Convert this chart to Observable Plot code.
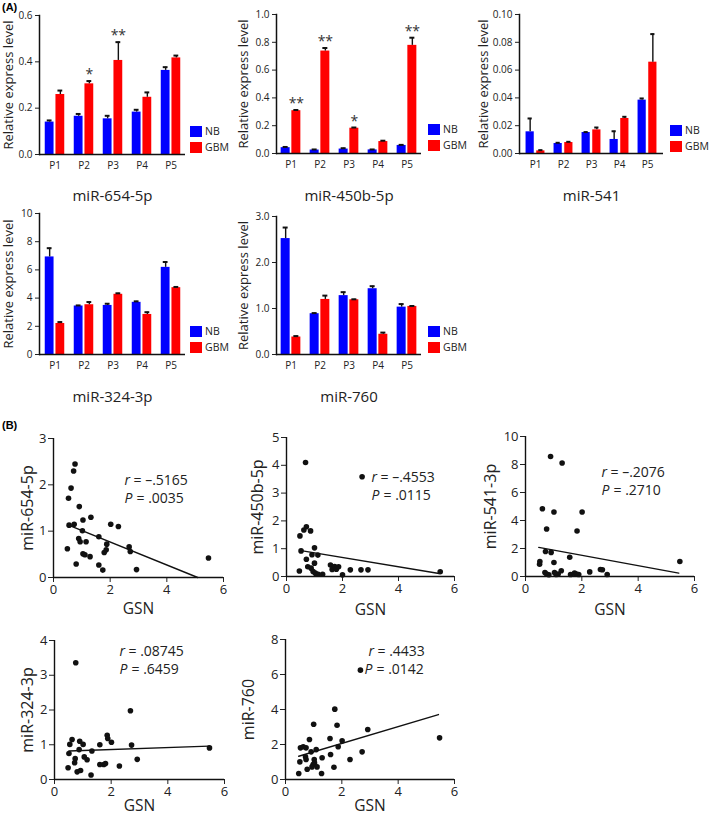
<!DOCTYPE html>
<html><head><meta charset="utf-8">
<script src="https://cdn.jsdelivr.net/npm/d3@7"></script>
<script src="https://cdn.jsdelivr.net/npm/@observablehq/plot@0.6"></script>
<style>
body{margin:0;background:#fff;}
#fig{position:relative;width:709px;height:818px;overflow:hidden;background:#fff;font-family:"Open Sans",sans-serif;}
.panel{position:absolute;}
.panel svg{overflow:visible;}
.lg{position:absolute;width:12px;height:11px;}
.lt{position:absolute;font-size:10.5px;line-height:11px;color:#222;}
.tag{position:absolute;font:bold 11px "Liberation Sans",Arial,sans-serif;color:#000;}
</style></head><body><div id="fig"></div>
<script>
// ---------- (A) bar charts ----------
const patients = ["P1","P2","P3","P4","P5"];
const groups = ["NB","GBM"];
const yLabelA = "Relative express level";

const mir654NB = [0.140,0.165,0.154,0.183,0.363];
const mir654NBErr = [0.007,0.010,0.013,0.010,0.014];
const mir654GBM = [0.259,0.305,0.406,0.247,0.417];
const mir654GBMErr = [0.017,0.012,0.079,0.021,0.010];
const mir654Stars = ["","*","**","",""];

const mir450NB = [0.042,0.025,0.032,0.026,0.058];
const mir450NBErr = [0.005,0.004,0.006,0.003,0.004];
const mir450GBM = [0.308,0.737,0.182,0.086,0.778];
const mir450GBMErr = [0.005,0.022,0.005,0.006,0.055];
const mir450Stars = ["**","**","*","","**"];

const mir541NB = [0.0156,0.0072,0.0151,0.0101,0.0384];
const mir541NBErr = [0.0096,0.0005,0.0003,0.0059,0.0012];
const mir541GBM = [0.0019,0.0079,0.0170,0.0252,0.0657];
const mir541GBMErr = [0.0005,0.0005,0.0017,0.0012,0.0202];
const mir541Stars = ["","","","",""];

const mir324NB = [6.92,3.44,3.48,3.70,6.18];
const mir324NBErr = [0.62,0.04,0.12,0.07,0.38];
const mir324GBM = [2.20,3.53,4.27,2.84,4.74];
const mir324GBMErr = [0.10,0.19,0.07,0.16,0.05];
const mir324Stars = ["","","","",""];

const mir760NB = [2.52,0.887,1.28,1.43,1.03];
const mir760NBErr = [0.24,0.013,0.075,0.055,0.066];
const mir760GBM = [0.38,1.197,1.19,0.44,1.045];
const mir760GBMErr = [0.02,0.083,0.01,0.036,0.01];
const mir760Stars = ["","","","",""];

const ticks654 = [0,0.2,0.4,0.6];
const ticks450 = [0,0.2,0.4,0.6,0.8,1.0];
const ticks541 = [0,0.02,0.04,0.06,0.08,0.10];
const ticks324 = [0,2,4,6,8,10];
const ticks760 = [0,1,2,3];

// ---------- (B) scatter plots ----------
const xLabelB = "GSN";
const gsnTicks = [0,2,4,6];

const gsn654 = [0.76,0.71,0.62,0.53,0.91,1.32,0.55,0.73,1.04,1.02,2.02,2.29,0.89,0.94,1.15,1.60,1.88,1.86,1.79,2.67,2.71,0.49,1.04,1.11,1.29,0.80,1.60,1.74,2.93,5.47];
const val654 = [2.45,2.30,1.93,1.71,1.53,1.30,1.13,1.15,1.24,1.01,1.15,1.10,0.84,0.77,0.77,0.88,0.72,0.60,0.54,0.66,0.56,0.62,0.51,0.49,0.45,0.29,0.27,0.16,0.17,0.42];
const fit654X = [0.53,5.09], fit654Y = [1.13,0];

const gsn450 = [0.68,2.70,0.71,0.62,0.86,0.48,0.52,1.00,0.91,1.12,0.71,1.00,0.76,0.88,0.95,1.03,1.13,1.29,0.46,1.57,1.63,1.72,1.78,1.86,2.00,2.28,2.66,2.91,5.49];
const val450 = [4.10,3.59,1.79,1.67,1.64,1.46,0.92,1.03,0.78,0.77,0.62,0.48,0.35,0.30,0.18,0.12,0.08,0.08,0.20,0.41,0.25,0.36,0.26,0.35,0.06,0.24,0.24,0.24,0.17];
const fit450X = [0.52,5.45], fit450Y = [0.93,0.11];

const gsn541 = [0.89,1.30,0.60,1.01,2.01,0.75,1.83,0.91,0.71,1.57,0.51,0.50,1.01,0.69,0.83,1.03,1.16,1.27,0.75,1.60,1.74,1.81,1.89,2.28,2.66,2.73,2.90,5.48,1.09];
const val541 = [8.57,8.11,4.84,4.61,4.61,3.39,3.25,1.72,1.79,1.38,1.07,0.88,1.00,0.29,0.12,0.29,0.17,0.41,0.17,0.14,0.24,0.17,0.14,0.33,0.50,0.48,0.14,1.07,0.14];
const fit541X = [0.47,5.44], fit541Y = [2.08,0.24];

const gsn324 = [0.75,2.68,0.62,0.54,0.89,1.01,0.51,0.87,0.73,0.71,1.05,1.15,1.32,0.48,0.80,0.92,1.29,1.60,1.86,1.88,2.01,1.60,1.74,1.80,2.29,2.72,2.92,5.47];
const val324 = [3.36,1.98,1.15,1.01,1.10,1.01,0.75,0.86,0.60,0.48,0.65,0.57,0.82,0.34,0.22,0.26,0.13,1.00,1.27,1.18,1.07,0.43,0.43,0.46,0.39,0.99,0.58,0.91];
const fit324X = [0.51,5.45], fit324Y = [0.82,0.96];

const gsn760 = [2.66,1.75,1.00,1.83,2.92,5.47,1.58,2.01,0.85,1.87,0.53,0.63,0.73,1.09,0.91,1.60,2.72,0.71,1.02,1.30,2.29,0.51,0.73,1.03,0.98,1.12,1.72,0.77,0.94,0.47,1.28];
const val760 = [6.25,4.02,3.16,3.10,2.86,2.38,2.34,2.21,2.29,1.87,1.81,1.87,1.81,1.71,1.58,1.43,1.58,1.30,1.14,1.24,1.14,1.01,1.14,0.95,0.86,0.72,0.70,0.59,0.72,0.34,0.34];
const fit760X = [0.47,5.43], fit760Y = [1.33,3.71];

const corrR = ["–.5165","–.4553","–.2076",".08745",".4433"];
const corrP = [".0035",".0115",".2710",".6459",".0142"];

// ---------- helpers ----------
const fig = document.getElementById("fig");
const BLUE = "#0000ff", RED = "#ff0000";

function place(el, left, top) {
  const d = document.createElement("div");
  d.className = "panel"; d.style.left = left + "px"; d.style.top = top + "px";
  d.appendChild(el); fig.appendChild(d);
}
function html(cls, left, top, text, bg) {
  const d = document.createElement("div");
  d.className = cls; d.style.left = left + "px"; d.style.top = top + "px";
  if (text) d.textContent = text;
  if (bg) d.style.background = bg;
  fig.appendChild(d);
}

function barPanel(o) {
  const nb = patients.map((p, i) => ({patient: p, group: groups[0], value: o.nb[i], top: o.nb[i] + o.nbErr[i]}));
  const gb = patients.map((p, i) => ({patient: p, group: groups[1], value: o.gbm[i], top: o.gbm[i] + o.gbmErr[i], star: o.stars[i]}));
  const step = (o.width - o.ml - o.mr) / patients.length;
  const bw = 9, gap = 1.7, cap = 5;
  const outer = (step - 2 * bw - gap) / 2;
  const off = gap / 2 + bw / 2;
  const cNB = outer + bw / 2, cGB = step - outer - bw / 2;
  return Plot.plot({
    width: o.width, height: o.height,
    marginLeft: o.ml, marginRight: o.mr, marginTop: o.mt, marginBottom: o.mb,
    style: {fontFamily: "'Open Sans', sans-serif", fontSize: "10px", color: "#222", background: "transparent"},
    x: {domain: patients, padding: 0},
    y: {domain: [0, o.ticks[o.ticks.length - 1]]},
    marks: [
      Plot.barY(nb, {x: "patient", y: "value", fill: BLUE, insetLeft: outer, insetRight: outer + bw + gap}),
      Plot.barY(gb, {x: "patient", y: "value", fill: RED, insetLeft: outer + bw + gap, insetRight: outer}),
      Plot.ruleX(nb, {x: "patient", y1: "value", y2: "top", dx: -off, stroke: "#111", strokeWidth: 1.4}),
      Plot.ruleX(gb, {x: "patient", y1: "value", y2: "top", dx: off, stroke: "#111", strokeWidth: 1.4}),
      Plot.tickY(nb, {x: "patient", y: "top", insetLeft: cNB - cap / 2, insetRight: step - cNB - cap / 2, stroke: "#111", strokeWidth: 2}),
      Plot.tickY(gb, {x: "patient", y: "top", insetLeft: cGB - cap / 2, insetRight: step - cGB - cap / 2, stroke: "#111", strokeWidth: 2}),
      Plot.text(gb.filter(d => d.star), {x: "patient", y: "top", text: "star", dx: off, dy: -2, fontSize: 14, fill: "#333", lineAnchor: "bottom", letterSpacing: "1px"}),
      Plot.axisX({tickSize: 0, tickPadding: 7, label: null}),
      Plot.axisY({ticks: o.ticks, tickFormat: o.fmt, tickSize: 4, tickPadding: 3, label: null}),
      Plot.ruleY([0], {stroke: "#111", strokeWidth: 1.5}),
      Plot.frame({anchor: "left", stroke: "#111", strokeWidth: 1.5}),
      Plot.text([yLabelA], {frameAnchor: "left", rotate: -90, dx: o.ylx, textAnchor: "middle", lineAnchor: "middle", fontSize: 13, fill: "#222"}),
      Plot.text([o.title], {frameAnchor: "bottom", dy: o.tdy, textAnchor: "middle", lineAnchor: "middle", fontSize: 15, fill: "#222"})
    ]
  });
}

function scatterPanel(o) {
  const pts = o.x.map((x, i) => ({x, y: o.y[i]}));
  const fit = o.fx.map((x, i) => ({x, y: o.fy[i]}));
  const fi = d3.format("d");
  const ann = {frameAnchor: "top-left", fontSize: 14, textAnchor: "start", lineAnchor: "middle", fill: "#222"};
  return Plot.plot({
    width: o.width, height: o.height,
    marginLeft: o.ml, marginRight: o.mr, marginTop: o.mt, marginBottom: o.mb,
    style: {fontFamily: "'Open Sans', sans-serif", fontSize: "13px", color: "#222", background: "transparent"},
    x: {domain: [0, 6]},
    y: {domain: [0, o.ticks[o.ticks.length - 1]]},
    marks: [
      Plot.line(fit, {x: "x", y: "y", stroke: "#111", strokeWidth: 1.4}),
      Plot.dot(pts, {x: "x", y: "y", r: 2.8, fill: "#111", stroke: "none"}),
      Plot.axisX({ticks: gsnTicks, tickFormat: fi, tickSize: 5, tickPadding: 2, label: null}),
      Plot.axisY({ticks: o.ticks, tickFormat: fi, tickSize: 5, tickPadding: 2, label: null}),
      Plot.ruleX([0], {stroke: "#111", strokeWidth: 1.4}),
      Plot.ruleY([0], {stroke: "#111", strokeWidth: 1.4}),
      Plot.text([o.label], {frameAnchor: "left", rotate: -90, dx: o.ylx, textAnchor: "middle", lineAnchor: "middle", fontSize: 16, fill: "#222"}),
      Plot.text([xLabelB], {frameAnchor: "bottom", dy: o.gdy, textAnchor: "middle", lineAnchor: "middle", fontSize: 15.5, fill: "#222"}),
      Plot.text(["r"], {...ann, dx: o.rdx, dy: o.rdy, fontStyle: "italic"}),
      Plot.text(["= " + o.r], {...ann, dx: o.rdx + 9, dy: o.rdy}),
      Plot.text(["P"], {...ann, dx: o.pdx, dy: o.rdy + 18, fontStyle: "italic"}),
      Plot.text(["= " + o.p], {...ann, dx: o.pdx + 12, dy: o.rdy + 18})
    ]
  });
}

function legend(left, top) {
  html("lg", left, top, null, BLUE);
  html("lt", left + 15, top, groups[0]);
  html("lg", left, top + 16, null, RED);
  html("lt", left + 15, top + 16, groups[1]);
}

// ---------- (A) ----------
const f2 = d3.format(".1f"), f22 = d3.format(".2f"), f0 = d3.format("d");
place(barPanel({nb: mir654NB, nbErr: mir654NBErr, gbm: mir654GBM, gbmErr: mir654GBMErr, stars: mir654Stars,
  ticks: ticks654, fmt: f2, title: "miR-654-5p", width: 190, height: 205, ml: 39, mr: 5, mt: 15, mb: 51, ylx: -31, tdy: 42}), 0, 0);
place(barPanel({nb: mir450NB, nbErr: mir450NBErr, gbm: mir450GBM, gbmErr: mir450GBMErr, stars: mir450Stars,
  ticks: ticks450, fmt: f2, title: "miR-450b-5p", width: 190, height: 205, ml: 41, mr: 4, mt: 14, mb: 52, ylx: -33, tdy: 43}), 235, 0);
place(barPanel({nb: mir541NB, nbErr: mir541NBErr, gbm: mir541GBM, gbmErr: mir541GBMErr, stars: mir541Stars,
  ticks: ticks541, fmt: f22, title: "miR-541", width: 197, height: 205, ml: 49, mr: 4, mt: 14, mb: 52, ylx: -36, tdy: 43}), 470, 0);
place(barPanel({nb: mir324NB, nbErr: mir324NBErr, gbm: mir324GBM, gbmErr: mir324GBMErr, stars: mir324Stars,
  ticks: ticks324, fmt: f0, title: "miR-324-3p", width: 190, height: 210, ml: 39, mr: 5, mt: 18, mb: 51, ylx: -31, tdy: 43}), 0, 195);
place(barPanel({nb: mir760NB, nbErr: mir760NBErr, gbm: mir760GBM, gbmErr: mir760GBMErr, stars: mir760Stars,
  ticks: ticks760, fmt: f2, title: "miR-760", width: 190, height: 210, ml: 41, mr: 4, mt: 21, mb: 51, ylx: -33, tdy: 43}), 235, 195);
legend(190, 126); legend(428, 124); legend(670, 125); legend(190, 326); legend(428, 326);
html("tag", 2, 1, "(A)");

// ---------- (B) ----------
place(scatterPanel({x: gsn654, y: val654, fx: fit654X, fy: fit654Y, ticks: [0,1,2,3], label: "miR-654-5p", r: corrR[0], p: corrP[0],
  width: 235, height: 210, ml: 53, mr: 12, mt: 28, mb: 43, ylx: -26, gdy: 32, rdx: 71, rdy: 42, pdx: 71}), 0, 410);
place(scatterPanel({x: gsn450, y: val450, fx: fit450X, fy: fit450Y, ticks: [0,1,2,3,4,5], label: "miR-450b-5p", r: corrR[1], p: corrP[1],
  width: 235, height: 210, ml: 51, mr: 16, mt: 27, mb: 44, ylx: -29, gdy: 34, rdx: 85, rdy: 40, pdx: 85}), 235, 410);
place(scatterPanel({x: gsn541, y: val541, fx: fit541X, fy: fit541Y, ticks: [0,2,4,6,8,10], label: "miR-541-3p", r: corrR[2], p: corrP[2],
  width: 239, height: 210, ml: 55, mr: 15, mt: 26, mb: 44, ylx: -35, gdy: 34, rdx: 76, rdy: 36, pdx: 76}), 470, 410);
place(scatterPanel({x: gsn324, y: val324, fx: fit324X, fy: fit324Y, ticks: [0,1,2,3,4], label: "miR-324-3p", r: corrR[3], p: corrP[3],
  width: 235, height: 208, ml: 54, mr: 11, mt: 28, mb: 41, ylx: -27, gdy: 27, rdx: 65, rdy: 11, pdx: 65}), 0, 612);
place(scatterPanel({x: gsn760, y: val760, fx: fit760X, fy: fit760Y, ticks: [0,2,4,6,8], label: "miR-760", r: corrR[4], p: corrP[4],
  width: 235, height: 208, ml: 50, mr: 16, mt: 27, mb: 41, ylx: -37, gdy: 27, rdx: 83, rdy: 12, pdx: 79}), 235, 612);
html("tag", 2, 419, "(B)");
</script></body></html>
